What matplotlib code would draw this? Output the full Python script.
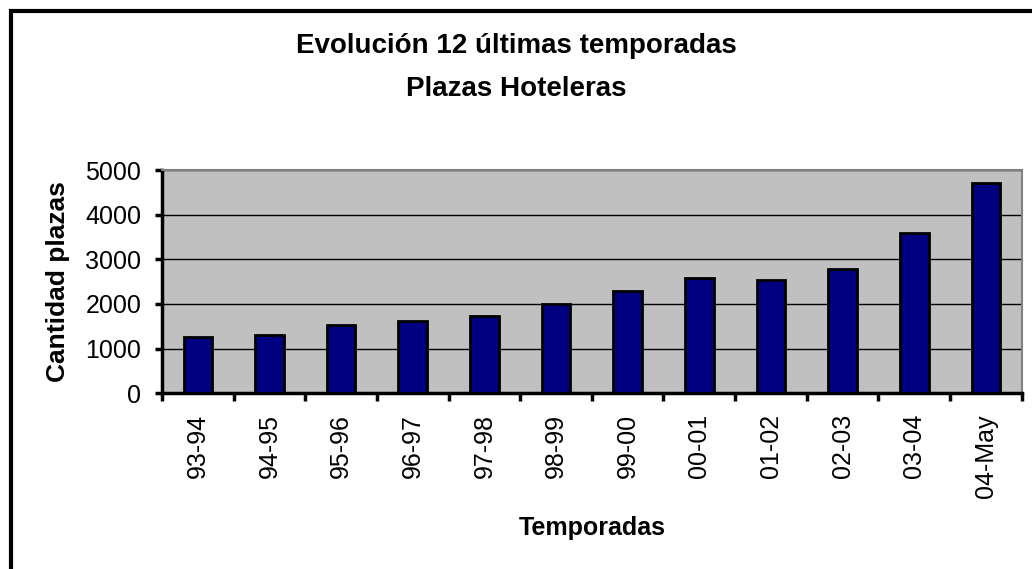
import numpy as np
import matplotlib.pyplot as plt
from matplotlib.patches import Rectangle

# Data
temporadas = ["93-94", "94-95", "95-96", "96-97", "97-98", "98-99",
              "99-00", "00-01", "01-02", "02-03", "03-04", "04-May"]
plazas = [1250, 1300, 1520, 1620, 1730, 2000,
          2280, 2580, 2540, 2790, 3590, 4710]
y_ticks = [0, 1000, 2000, 3000, 4000, 5000]

plt.rcParams["font.family"] = ["Liberation Sans", "DejaVu Sans"]

fig = plt.figure(figsize=(10.32, 5.69), dpi=100)
ax = fig.add_axes([0.157, 0.309, 0.833, 0.392])

x = np.arange(len(temporadas))
ax.set_facecolor("#C0C0C0")
ax.yaxis.grid(True, color="black", linewidth=1)
ax.set_axisbelow(True)
ax.bar(x, plazas, width=0.4, color="#000080", edgecolor="black", linewidth=2, zorder=3)

ax.set_xlim(-0.5, len(temporadas) - 0.5)
ax.set_ylim(0, 5000)
ax.set_yticks(y_ticks)
ax.set_xticks(x)
ax.set_xticklabels(temporadas, rotation=90)
ax.set_xticks(np.arange(-0.5, len(temporadas)), minor=True)
ax.tick_params(axis="x", which="major", length=0, labelsize=18, pad=15)
ax.tick_params(axis="x", which="minor", length=6, width=2.5, direction="out")
ax.tick_params(axis="y", length=5, width=2.5, labelsize=18, pad=10)

for side in ["left", "bottom"]:
    ax.spines[side].set_linewidth(2.5)
for side in ["top", "right"]:
    ax.spines[side].set_color("#808080")
    ax.spines[side].set_linewidth(1.5)

ax.set_xlabel("Temporadas", fontsize=18, fontweight="bold")
ax.xaxis.set_label_coords(0.5, -0.55)
ax.set_ylabel("Cantidad plazas", fontsize=19, fontweight="bold")
ax.yaxis.set_label_coords(-0.107, 0.5)

fig.text(0.5, 0.92, "Evolución 12 últimas temporadas",
         ha="center", va="center", fontsize=20, fontweight="bold")
fig.text(0.5, 0.843, "Plazas Hoteleras",
         ha="center", va="center", fontsize=20, fontweight="bold")

# outer chart frame (cut off on the right and bottom)
fig.add_artist(Rectangle((11 / 1032, -0.1), 1.2, 1.1 - 11 / 569,
                         transform=fig.transFigure, fill=False,
                         edgecolor="black", linewidth=3))

fig.savefig("out.png", dpi=100)
